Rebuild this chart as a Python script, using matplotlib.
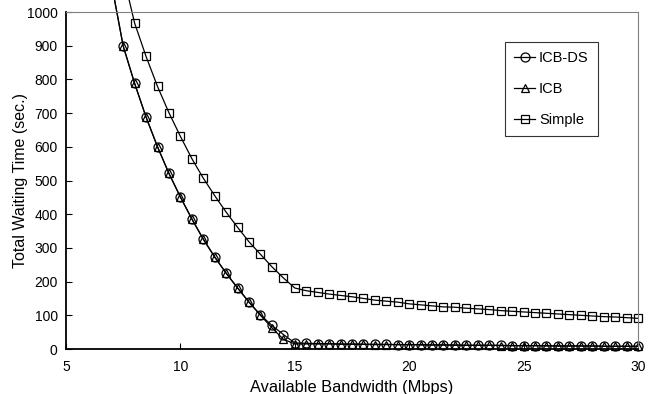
import matplotlib
matplotlib.use("Agg")
import matplotlib.pyplot as plt

# bandwidth (Mbps), sampled every 0.5
bw_icb = [7.0, 7.5, 8.0, 8.5, 9.0, 9.5, 10.0, 10.5, 11.0, 11.5, 12.0, 12.5, 13.0, 13.5,
          14.0, 14.5, 15.0, 15.5, 16.0, 16.5, 17.0, 17.5, 18.0, 18.5, 19.0, 19.5, 20.0,
          20.5, 21.0, 21.5, 22.0, 22.5, 23.0, 23.5, 24.0, 24.5, 25.0, 25.5, 26.0, 26.5,
          27.0, 27.5, 28.0, 28.5, 29.0, 29.5, 30.0]
bw_simple = bw_icb[1:]

icb_ds = [1080, 899, 788, 688, 600, 521, 451, 386, 326, 273, 225, 181, 139, 101,
          70, 43, 18, 17, 16, 16, 15, 15, 14, 14, 14, 13, 13,
          13, 12, 12, 12, 11, 11, 11, 11, 10, 10, 10, 10, 9,
          9, 9, 9, 8, 8, 8, 8]
icb = [1080, 899, 788, 688, 600, 521, 451, 386, 326, 273, 225, 181, 139, 100,
       63, 29, 15, 15, 15, 15, 14, 14, 14, 13, 13, 13, 13,
       12, 12, 12, 11, 11, 11, 11, 10, 10, 10, 10, 9, 9,
       9, 9, 9, 8, 8, 8, 8]
simple = [1110, 967, 868, 779, 701, 631, 565, 507, 455, 406, 361, 318, 281,
          244, 211, 181, 173, 168, 163, 159, 155, 150, 145, 142, 139, 134,
          131, 128, 125, 124, 121, 119, 117, 114, 112, 110, 108, 106, 104,
          102, 100, 98, 96, 95, 93, 91]

plt.rcParams["font.family"] = ["Liberation Sans", "DejaVu Sans"]

fig = plt.figure(figsize=(6.49, 3.94), dpi=100)
ax = fig.add_axes([0.1017, 0.1142, 0.8813, 0.8553])

style = dict(color="black", linewidth=0.9, markerfacecolor="none",
             markeredgecolor="black", markeredgewidth=0.9, clip_on=False)
ax.plot(bw_icb, icb_ds, marker="o", markersize=6.5, label="ICB-DS", **style)
ax.plot(bw_icb, icb, marker="^", markersize=6, label="ICB", **style)
ax.plot(bw_simple, simple, marker="s", markersize=6, label="Simple", **style)

ax.set_xlim(5, 30)
ax.set_ylim(0, 1000)
ax.set_xticks([5, 10, 15, 20, 25, 30])
ax.set_yticks(range(0, 1001, 100))
ax.tick_params(direction="in", length=4, width=0.8, labelsize=10)
ax.tick_params(axis="x", pad=8)
ax.tick_params(axis="y", pad=6)

ax.spines["top"].set_color("#808080")
ax.spines["right"].set_color("#808080")
for s in ["left", "bottom"]:
    ax.spines[s].set_linewidth(1.3)

ax.set_xlabel("Available Bandwidth (Mbps)", fontsize=11.8, labelpad=4)
ax.set_ylabel("Total Waiting Time (sec.)", fontsize=11.5)
ax.yaxis.set_label_coords(-0.066, 0.5)

leg = ax.legend(loc="upper right", bbox_to_anchor=(0.93, 0.911), fontsize=10.5,
                frameon=True, fancybox=False, handlelength=1.4, handletextpad=0.3,
                labelspacing=1.15, borderpad=0.63, borderaxespad=0)
leg.get_frame().set_edgecolor("black")
leg.get_frame().set_linewidth(0.8)

fig.savefig("out.png", dpi=100)
